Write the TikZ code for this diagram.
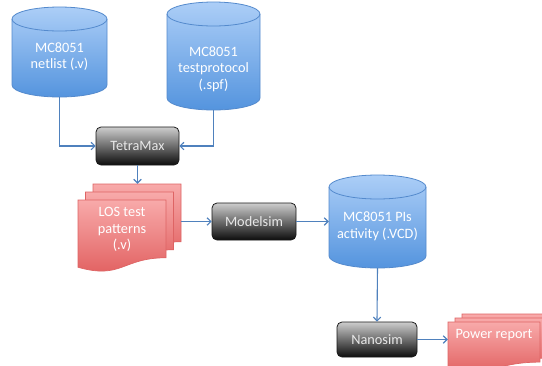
\documentclass[tikz,border=0pt]{standalone}
\usepackage{fontspec}
\setmainfont{Carlito}
\usetikzlibrary{arrows.meta}
\definecolor{cylline}{RGB}{84,138,205}
\definecolor{cyltop}{RGB}{172,206,247}
\definecolor{cylbot}{RGB}{84,148,222}
\definecolor{docline}{RGB}{222,100,100}
\definecolor{doctop}{RGB}{248,170,170}
\definecolor{docbot}{RGB}{224,92,92}
\definecolor{proctop}{RGB}{205,205,205}
\definecolor{procmid}{RGB}{80,80,80}
\definecolor{arrcol}{RGB}{79,129,189}
\definecolor{proctext}{RGB}{232,232,232}
\newcommand{\labfont}{\fontsize{14.3pt}{16.5pt}\selectfont}
\tikzset{
  cyl/.style={draw=cylline, line width=0.8pt, top color=cyltop, bottom color=cylbot},
  docst/.style={draw=docline, line width=0.7pt, top color=doctop, bottom color=docbot},
  proc/.style={draw=black!90, line width=0.8pt, rounded corners=5pt,
    top color=proctop, middle color=procmid, bottom color=black!95,
    text=proctext, font=\labfont, inner sep=0pt},
  lbl/.style={text=white, align=center, font=\labfont, inner sep=0pt},
  holder/.style={inner sep=0pt, minimum width=#1},
  arr/.style={draw=arrcol, line width=1.1pt, -{Straight Barb[length=3.8pt,width=7.5pt]}}
}
% cylinder: xl xr yt yb ry
\newcommand{\mycyl}[5]{%
  \path[cyl] (#1,#4) -- (#1,#3)
    arc[start angle=180,end angle=360,x radius={(#2-#1)/2},y radius=#5]
    -- (#2,#4)
    arc[start angle=0,end angle=180,x radius={(#2-#1)/2},y radius=#5] -- cycle;
  \draw[cylline, line width=0.8pt] (#1,#3)
    arc[start angle=180,end angle=0,x radius={(#2-#1)/2},y radius=#5];
}
% document page: x y w h
\newcommand{\mydoc}[4]{%
  \path[docst] (#1,#2) -- ({#1+#3},#2) -- ({#1+#3},{#2+0.802*#4})
    .. controls ({#1+0.5*#3},{#2+0.802*#4}) and ({#1+0.5*#3},{#2+1.107*#4}) ..
    (#1,{#2+0.934*#4}) -- cycle;
}
\begin{document}
\begin{tikzpicture}[x=1pt,y=-1pt]
\clip (0,0) rectangle (542,365);
\fill[white] (0,0) rectangle (542,365);

% cylinders
\mycyl{12}{107}{19}{85}{12}
\mycyl{167}{260}{14}{98}{12}
\mycyl{329}{426}{187}{256}{12}
\node[holder, minimum width=95pt, minimum height=90pt] (c1) at (59.5,52) {};
\node[holder, minimum width=93pt, minimum height=108pt] (c2) at (213.5,56) {};
\node[holder, minimum width=97pt, minimum height=93pt] (c3) at (377.5,221.5) {};
\node[lbl] (c1t) at (59.5,56.5) {MC8051\\netlist (.v)};
\node[lbl] (c2t) at (213.5,69) {MC8051\\testprotocol\\(.spf)};
\node[lbl] (c3t) at (377.5,226.5) {MC8051 PIs\\activity (.VCD)};

% LOS test patterns stack
\mydoc{93}{184}{88}{72}
\mydoc{85.5}{192}{88}{72}
\mydoc{78}{200}{88}{72}
\node[holder, minimum width=103pt, minimum height=88pt] (los) at (129.5,228) {};
\node[lbl] (lost) at (122,229.5) {LOS test\\patterns\\(.v)};

% Power report stack
\mydoc{462}{314}{92}{50}
\mydoc{455}{318}{92}{50}
\mydoc{448}{322}{92}{50}
\node[holder, minimum width=106pt, minimum height=51pt] (pw) at (501,339.5) {};
\node[lbl] (pwt) at (494,335) {Power report};

% process boxes
\node[proc, minimum width=83pt, minimum height=38pt] (tm) at (137.5,146) {TetraMax};
\node[proc, minimum width=84pt, minimum height=37pt] (mod) at (254,221.5) {Modelsim};
\node[proc, minimum width=80pt, minimum height=35pt] (nano) at (377,339.5) {Nanosim};

% connectors
\draw[arr] (c1.south) |- (tm.west);
\draw[arr] (c2.south) |- (tm.east);
\draw[arr] (tm.south) -- (tm.south |- los.north);
\draw[arr] (mod.west -| los.east) -- (mod.west);
\draw[arr] (mod.east) -- (c3.west);
\draw[arr] (c3.south) -- (nano.north);
\draw[arr] (nano.east) -- (nano.east -| pw.west);
\end{tikzpicture}
\end{document}
